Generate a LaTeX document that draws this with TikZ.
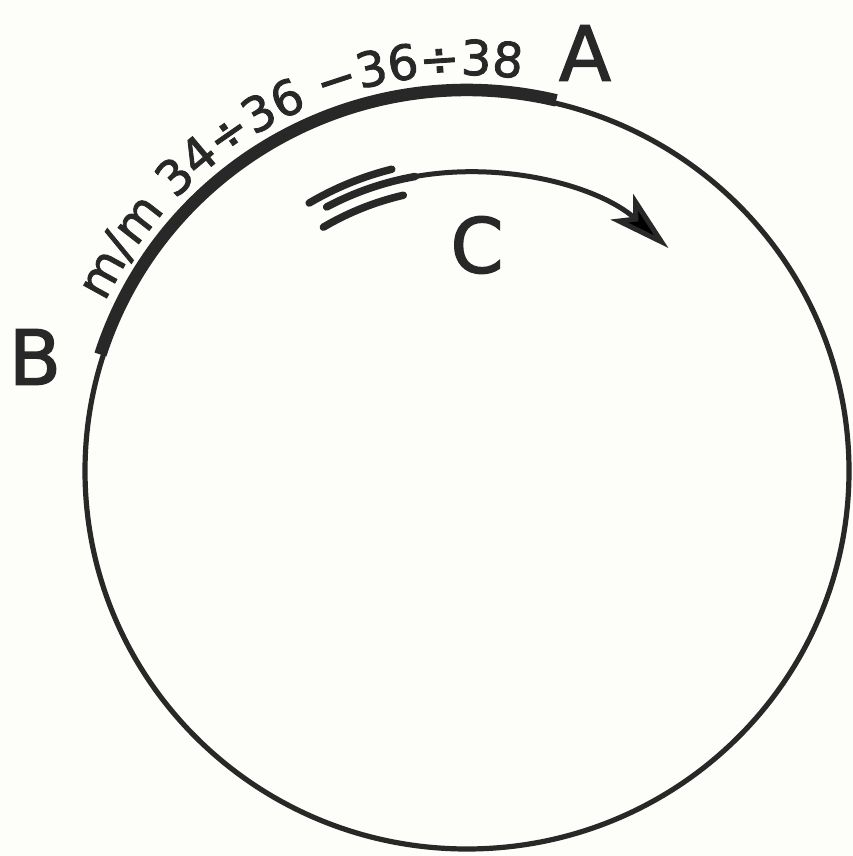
\documentclass[tikz,border=0pt]{standalone}
\usepackage{fontspec}
\setmainfont{DejaVu Sans}[FakeBold=1.8]
\usetikzlibrary{arrows.meta,decorations.text}
\definecolor{ink}{RGB}{40,40,40}
\definecolor{paper}{RGB}{253,253,249}
\tikzset{
  thinline/.style={draw=ink, line width=5.2pt},
  thickarc/.style={draw=ink, line width=12.5pt},
  tailstroke/.style={draw=ink, line width=7.5pt, line cap=round},
  arrowline/.style={draw=ink, line width=5pt, -{Stealth[length=62pt, width=34pt, inset=15pt]}},
  biglabel/.style={text=ink, font=\fontsize{76}{76}\selectfont, inner sep=0pt}
}
\begin{document}
\begin{tikzpicture}[x=1pt, y=1pt]
  \fill[paper] (0,0) rectangle (853,856);
  \useasboundingbox (0,0) rectangle (853,856);
  \coordinate (O) at (467,385);
  % main circle
  \draw[thinline] (O) ellipse [x radius=382pt, y radius=378pt];
  % thick arc A--B
  \draw[thickarc] ([shift={(76.6:385pt and 381pt)}]O)
     arc[start angle=76.6, end angle=162.2, x radius=385pt, y radius=381pt];
  % text along the arc
  \path[decorate, decoration={text along path, text align=center, text color=ink,
        text={|\fontsize{48}{48}\selectfont|m/m 34÷36 −36÷38}}]
     ([shift={(159:400pt and 396pt)}]O)
     arc[start angle=159, end angle=78, x radius=400pt, y radius=396pt];
  % arrow C
  \draw[tailstroke] ([shift={(120.5:311pt)}]O) arc[start angle=120.5, end angle=104, radius=311pt];
  \draw[tailstroke] ([shift={(120.5:283pt)}]O) arc[start angle=120.5, end angle=103, radius=283pt];
  \draw[tailstroke] ([shift={(118:299pt)}]O) arc[start angle=118, end angle=100, radius=299pt];
  \draw[arrowline] ([shift={(100:299pt)}]O) arc[start angle=100, end angle=48.5, radius=303pt];
  % labels
  \node[biglabel] (A) at (585,803) {A};
  \node[biglabel] (B) at (35,499) {B};
  \node[biglabel] (C) at (477,611) {C};
\end{tikzpicture}
\end{document}
